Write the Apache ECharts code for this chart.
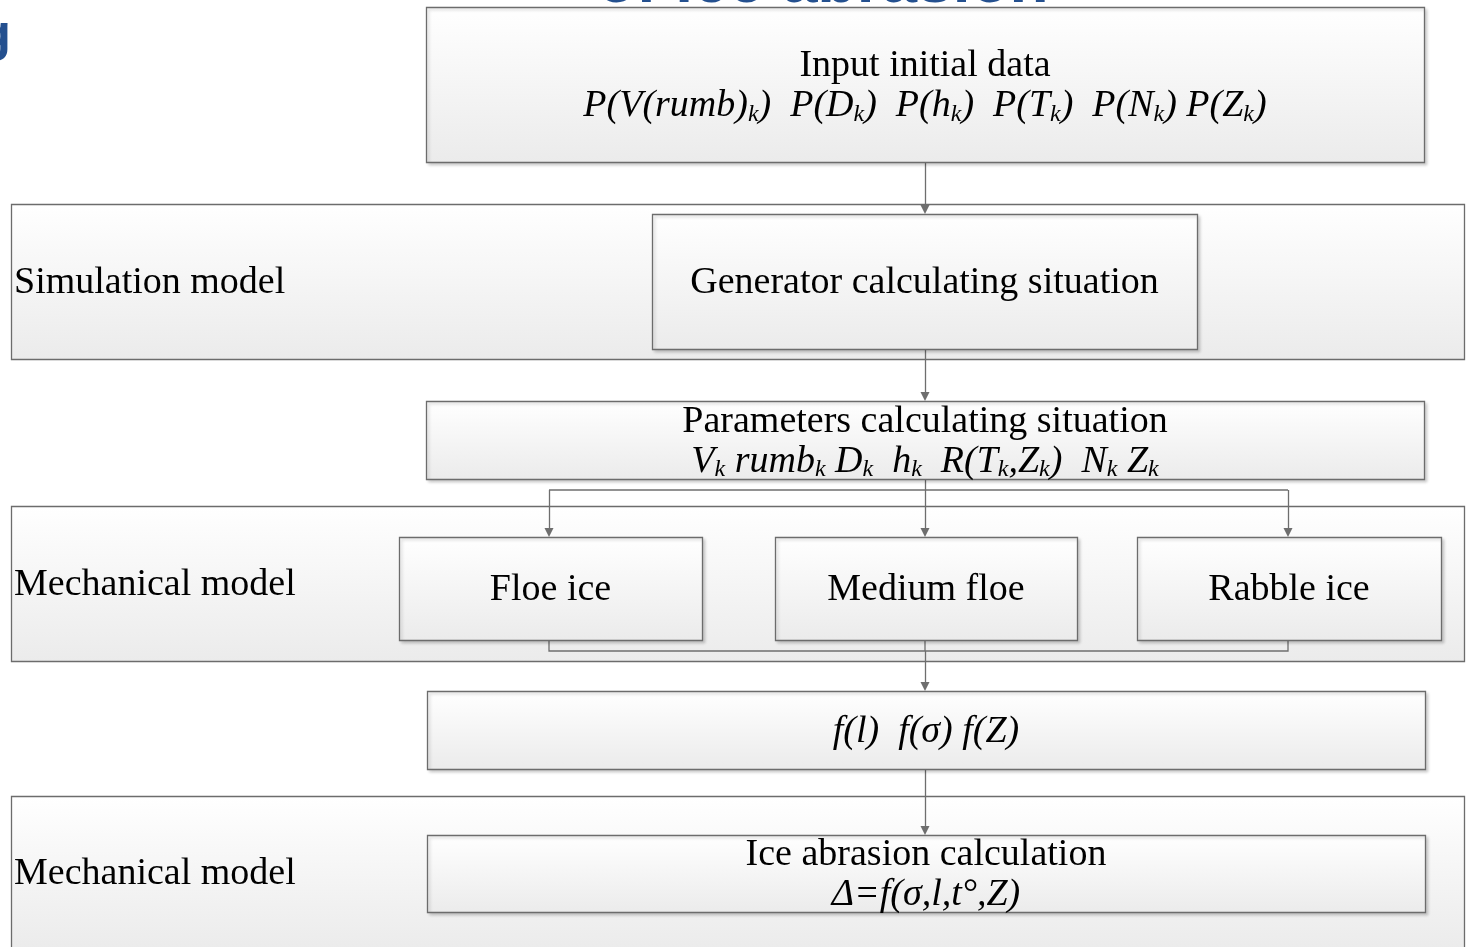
<!DOCTYPE html>
<html><head><meta charset="utf-8">
<script src="https://cdn.jsdelivr.net/npm/echarts@6/dist/echarts.min.js"></script>
<style>html,body{margin:0;padding:0;background:#fff;overflow:hidden}#c{width:1466px;height:947px}</style>
</head><body><div id="c"></div>
<script>
// ---------- content ----------
const bandLabels = ['Simulation model', 'Mechanical model', 'Mechanical model'];
const boxTexts = [
  '{t|Input initial data}\n{i|P(V(rumb)}{s|k}{i|)  P(D}{s|k}{i|)  P(h}{s|k}{i|)  P(T}{s|k}{i|)  P(N}{s|k}{i|) P(Z}{s|k}{i|)}',
  '{t|Generator calculating situation}',
  '{t|Parameters calculating situation}\n{i|V}{s|k}{i| rumb}{s|k}{i| D}{s|k}{i|  h}{s|k}{i|  R(T}{s|k}{i|,Z}{s|k}{i|)  N}{s|k}{i| Z}{s|k}',
  '{t|Floe ice}',
  '{t|Medium floe}',
  '{t|Rabble ice}',
  '{i|f(l)  f(σ) f(Z)}',
  '{t|Ice abrasion calculation}\n{i|Δ=f(σ,l,t°,Z)}'
];
const titleFragments = ['of ice abrasion', 'g'];

// ---------- layout (diagram units = pixels of a 1466 x 947 canvas) ----------
const bandLayout = [
  [11, 204, 1464, 359],
  [11, 506, 1464, 661],
  [11, 796, 1464, 950]
];
const boxLayout = [
  [426, 7, 1424, 162],
  [652, 214, 1197, 349],
  [426, 401, 1424, 479],
  [399, 537, 702, 640],
  [775, 537, 1077, 640],
  [1137, 537, 1441, 640],
  [427, 691, 1425, 769],
  [427, 835, 1425, 912]
];
// connector routes; the last segment of each route carries an arrow head
const arrowRoutes = [
  [[925, 162], [925, 214]],
  [[925, 349], [925, 401]],
  [[925, 479], [925, 537]],
  [[925, 490], [549, 490], [549, 537]],
  [[925, 490], [1288, 490], [1288, 537]],
  [[925, 651], [925, 691]],
  [[925, 769], [925, 835]]
];
const plainRoutes = [
  [[549, 640], [549, 651], [1288, 651], [1288, 640]],
  [[925, 640], [925, 651]]
];

const SERIF = '"Liberation Serif", "Times New Roman", serif';
const rich = {
  t: { fontFamily: SERIF, fontSize: 38, lineHeight: 40, color: '#000' },
  i: { fontFamily: SERIF, fontSize: 38, fontStyle: 'italic', lineHeight: 40, color: '#000' },
  s: { fontFamily: SERIF, fontSize: 24, fontStyle: 'italic', lineHeight: 20, verticalAlign: 'bottom', color: '#000' }
};
const ARROW = 9;

function grad() {
  return new echarts.graphic.LinearGradient(0, 0, 0, 1, [
    { offset: 0, color: '#ffffff' },
    { offset: 1, color: '#ebebeb' }
  ]);
}

function rectItem(api, shadow) {
  const p1 = api.coord([api.value(0), api.value(1)]);
  const p2 = api.coord([api.value(2), api.value(3)]);
  return {
    p1, p2,
    rect: {
      type: 'rect',
      shape: { x: Math.round(p1[0]) + 0.5, y: Math.round(p1[1]) + 0.5, width: Math.round(p2[0] - p1[0]), height: Math.round(p2[1] - p1[1]) },
      style: {
        fill: grad(), stroke: '#6c6c6c', lineWidth: 1.3,
        shadowBlur: shadow ? 3 : 0, shadowOffsetX: shadow ? 2 : 0, shadowOffsetY: shadow ? 2 : 0,
        shadowColor: 'rgba(0,0,0,0.18)'
      }
    }
  };
}

// split routes: bodies (polyline, no symbol) and final segments (with arrow head, ending half a head before the target)
const routeBodies = arrowRoutes.filter(r => r.length > 2).map(r => r.slice(0, r.length - 1)).concat(plainRoutes);
const routeHeads = arrowRoutes.map(r => {
  const a = r[r.length - 2], b = r[r.length - 1];
  return [a, [b[0], b[1] - ARROW / 2]];
});

const chart = echarts.init(document.getElementById('c'), null, { renderer: 'canvas' });
chart.setOption({
  animation: false,
  backgroundColor: '#ffffff',
  grid: { left: 0, right: 0, top: 0, bottom: 0 },
  xAxis: { type: 'value', min: 0, max: 1466, show: false },
  yAxis: { type: 'value', min: 0, max: 947, inverse: true, show: false },
  graphic: [
    { type: 'text', x: 597, y: 16, silent: true,
      style: { text: titleFragments[0], font: 'bold 64px "Liberation Sans", Arial, sans-serif', fill: '#24508f', verticalAlign: 'bottom' } },
    { type: 'text', x: 11, y: 62, silent: true,
      style: { text: titleFragments[1], font: 'bold 52px "Liberation Sans", Arial, sans-serif', fill: '#24508f', align: 'right', verticalAlign: 'bottom' } }
  ],
  series: [
    {
      type: 'custom', name: 'bands', z: 1, clip: false,
      encode: { x: [0, 2], y: [1, 3] },
      data: bandLayout,
      renderItem: function (params, api) {
        const r = rectItem(api, false);
        return {
          type: 'group',
          children: [
            r.rect,
            { type: 'text', x: r.p1[0] + 3, y: (r.p1[1] + Math.min(r.p2[1], 948)) / 2 + 2,
              style: { text: bandLabels[params.dataIndex], font: '38px ' + SERIF, fill: '#000', align: 'left', verticalAlign: 'middle' } }
          ]
        };
      }
    },
    {
      type: 'lines', name: 'routes', coordinateSystem: 'cartesian2d', polyline: true, z: 2,
      lineStyle: { color: '#6e6e6e', width: 1.3, opacity: 1 },
      data: routeBodies.map(c => ({ coords: c }))
    },
    {
      type: 'lines', name: 'arrows', coordinateSystem: 'cartesian2d', z: 2,
      symbol: ['none', 'triangle'], symbolSize: [ARROW, ARROW],
      lineStyle: { color: '#6e6e6e', width: 1.3, opacity: 1 },
      data: routeHeads.map(c => ({ coords: c }))
    },
    {
      type: 'custom', name: 'boxes', z: 3, clip: false,
      encode: { x: [0, 2], y: [1, 3] },
      data: boxLayout,
      renderItem: function (params, api) {
        const r = rectItem(api, true);
        return {
          type: 'group',
          children: [
            r.rect,
            { type: 'text', x: (r.p1[0] + r.p2[0]) / 2, y: (r.p1[1] + r.p2[1]) / 2 + 2,
              style: { text: boxTexts[params.dataIndex], rich: rich, align: 'center', verticalAlign: 'middle' } }
          ]
        };
      }
    }
  ]
});
</script></body></html>
